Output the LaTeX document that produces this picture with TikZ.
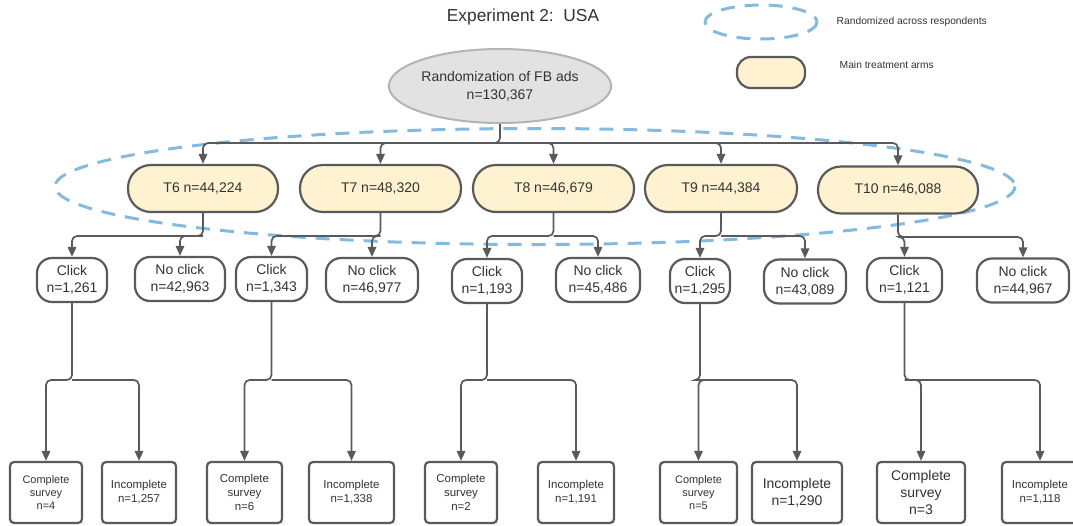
\documentclass[tikz,border=0pt]{standalone}
\usepackage{fontspec}
\setmainfont{Liberation Sans}
\usetikzlibrary{arrows.meta,shapes.geometric}
\definecolor{ln}{HTML}{5A5A5A}
\definecolor{arm}{HTML}{FFF2D1}
\definecolor{rootfill}{HTML}{E2E2E2}
\definecolor{rootline}{HTML}{B4B4B4}
\definecolor{dashblue}{HTML}{82BBDD}
\definecolor{txt}{HTML}{333333}
\tikzset{
  armbox/.style={draw=ln, line width=2.2pt*0.75, fill=arm, rounded corners=23*0.75pt, minimum height=47*0.75pt, font=\fontsize{10.5}{12.5}\selectfont, text=txt, inner sep=0pt},
  clickbox/.style={draw=ln, line width=2.2pt*0.75, fill=white, rounded corners=15*0.75pt, minimum height=44*0.75pt, font=\fontsize{10.5}{12.5}\selectfont, text=txt, align=center, inner sep=0pt},
  survbox/.style={draw=ln, line width=2.2pt*0.75, fill=white, rounded corners=4*0.75pt, minimum height=61*0.75pt, text=txt, align=center, inner sep=0pt},
  arr/.style={draw=ln, line width=1.7pt*0.75, rounded corners=5*0.75pt, -{Triangle[length=10*0.75pt, width=8.5*0.75pt]}},
  ring/.style={draw=dashblue, line width=3*0.75pt, dash pattern=on 14*0.75pt off 10*0.75pt},
}
\begin{document}
\begin{tikzpicture}[x=0.75pt, y=-0.75pt]
\useasboundingbox (0,0) rectangle (1073,525);
% title and legend
\node[font=\fontsize{13}{15}\selectfont, text=txt] (title) at (523,17) {Experiment 2:\ \ USA};
\draw[ring] (761,22) ellipse (56 and 17);
\node[font=\fontsize{7.7}{9}\selectfont, text=txt, anchor=west] (leg1) at (832,22) {Randomized across respondents};
\node[armbox, minimum width=68*0.75pt, minimum height=31*0.75pt, rounded corners=14*0.75pt] (legbox) at (771,72.5) {};
\node[font=\fontsize{7.7}{9}\selectfont, text=txt, anchor=west] (leg2) at (835,65) {Main treatment arms};
% big dashed ellipse
\draw[ring] (535,186.5) ellipse (480 and 58);
% root
\node[draw=rootline, line width=2*0.75pt, fill=rootfill, ellipse, minimum width=200*0.75pt, minimum height=74*0.75pt, inner sep=0pt, align=center, font=\fontsize{10.5}{13.5}\selectfont, text=txt] (root) at (500,86) {Randomization of FB ads\\n=130,367};
% treatment arms
\node[armbox, minimum width=150*0.75pt] (t6) at (203,188.5) {T6 n=44,224};
\node[armbox, minimum width=161*0.75pt] (t7) at (380.5,188.5) {T7 n=48,320};
\node[armbox, minimum width=161*0.75pt] (t8) at (553.5,188.5) {T8 n=46,679};
\node[armbox, minimum width=152*0.75pt] (t9) at (721,188.5) {T9 n=44,384};
\node[armbox, minimum width=160*0.75pt] (t10) at (898,190) {T10 n=46,088};
\coordinate (j0) at (500,143);
\draw[arr] (root.south) -- (j0) -| (t6.north);
\draw[arr] (j0) -| (t7.north);
\draw[arr] (j0) -| (t8.north);
\draw[arr] (j0) -| (t9.north);
\draw[arr] (j0) -| (t10.north);
% click / no click
\node[clickbox, minimum width=70*0.75pt] (c1) at (72,280) {Click\\n=1,261};
\node[clickbox, minimum width=90*0.75pt] (n1) at (180,279) {No click\\n=42,963};
\node[clickbox, minimum width=71*0.75pt] (c2) at (271.5,279) {Click\\n=1,343};
\node[clickbox, minimum width=92*0.75pt] (n2) at (372,280) {No click\\n=46,977};
\node[clickbox, minimum width=70*0.75pt] (c3) at (487,281) {Click\\n=1,193};
\node[clickbox, minimum width=84*0.75pt] (n3) at (598,280) {No click\\n=45,486};
\node[clickbox, minimum width=60*0.75pt] (c4) at (700,281) {Click\\n=1,295};
\node[clickbox, minimum width=82*0.75pt] (n4) at (805,281.5) {No click\\n=43,089};
\node[clickbox, minimum width=75*0.75pt] (c5) at (904.5,280) {Click\\n=1,121};
\node[clickbox, minimum width=92*0.75pt] (n5) at (1023,280.5) {No click\\n=44,967};
\coordinate (j6) at (203,236);
\coordinate (j7) at (380.5,236);
\coordinate (j8) at (553.5,236);
\coordinate (j9) at (721,236);
\coordinate (j10) at (898,237);
\draw[arr] (t6.south) -- (j6) -| (c1.north);
\draw[arr] (j6) -| (n1.north);
\draw[arr] (t7.south) -- (j7) -| (c2.north);
\draw[arr] (j7) -| (n2.north);
\draw[arr] (t8.south) -- (j8) -| (c3.north);
\draw[arr] (j8) -| (n3.north);
\draw[arr] (t9.south) -- (j9) -| (c4.north);
\draw[arr] (j9) -| (n4.north);
\draw[arr] (t10.south) -- (j10) -| (c5.north);
\draw[arr] (j10) -| (n5.north);
% survey outcome boxes
\node[survbox, minimum width=72*0.75pt, font=\fontsize{8.2}{10}\selectfont] (s1) at (46,492.5) {Complete\\survey\\n=4};
\node[survbox, minimum width=74*0.75pt, font=\fontsize{8.6}{10.5}\selectfont] (i1) at (139,492.5) {Incomplete\\n=1,257};
\node[survbox, minimum width=75*0.75pt, font=\fontsize{8.6}{10.5}\selectfont] (s2) at (244.5,492.5) {Complete\\survey\\n=6};
\node[survbox, minimum width=85*0.75pt, font=\fontsize{8.6}{10.5}\selectfont] (i2) at (351.5,492.5) {Incomplete\\n=1,338};
\node[survbox, minimum width=72*0.75pt, font=\fontsize{8.6}{10.5}\selectfont] (s3) at (461,492.5) {Complete\\survey\\n=2};
\node[survbox, minimum width=76*0.75pt, font=\fontsize{8.6}{10.5}\selectfont] (i3) at (576,492.5) {Incomplete\\n=1,191};
\node[survbox, minimum width=77*0.75pt, font=\fontsize{8.2}{10}\selectfont] (s4) at (698.5,492.5) {Complete\\survey\\n=5};
\node[survbox, minimum width=90*0.75pt, font=\fontsize{10.5}{12.5}\selectfont] (i4) at (797,492.5) {Incomplete\\n=1,290};
\node[survbox, minimum width=88*0.75pt, font=\fontsize{10.5}{12.5}\selectfont] (s5) at (921,492.5) {Complete\\survey\\n=3};
\node[survbox, minimum width=76*0.75pt, font=\fontsize{8.6}{10.5}\selectfont] (i5) at (1040,492.5) {Incomplete\\n=1,118};
\coordinate (k1) at (72,380);
\coordinate (k2) at (271.5,380);
\coordinate (k3) at (487,380);
\coordinate (k4) at (700,380);
\coordinate (k5) at (904.5,380);
\draw[arr] (c1.south) -- (k1) -| (s1.north);
\draw[arr] (k1) -| (i1.north);
\draw[arr] (c2.south) -- (k2) -| (s2.north);
\draw[arr] (k2) -| (i2.north);
\draw[arr] (c3.south) -- (k3) -| (s3.north);
\draw[arr] (k3) -| (i3.north);
\draw[arr] (c4.south) -- (k4) -| (s4.north);
\draw[arr] (k4) -| (i4.north);
\draw[arr] (c5.south) -- (k5) -| (s5.north);
\draw[arr] (k5) -| (i5.north);
\end{tikzpicture}
\end{document}
